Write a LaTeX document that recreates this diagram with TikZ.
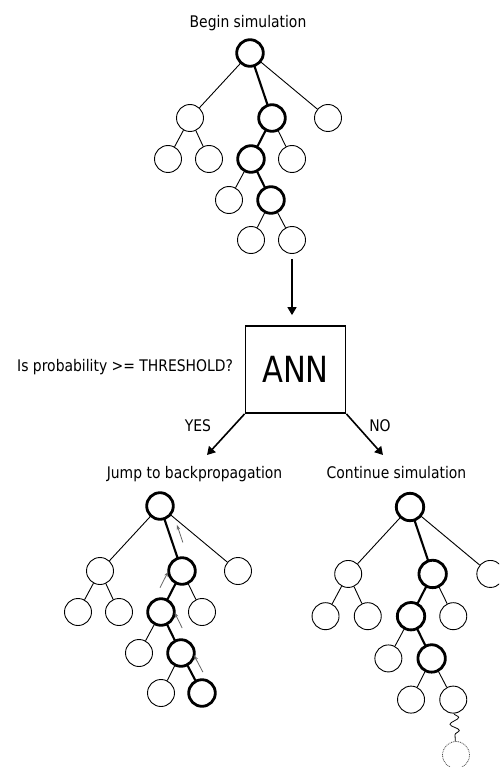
\documentclass[tikz,border=0pt]{standalone}
\usepackage{fontspec}
\setmainfont{DejaVu Sans}[FakeStretch=0.87]
\newfontfamily\annfont{DejaVu Sans}[FakeStretch=0.85]
\usetikzlibrary{arrows.meta,decorations.pathmorphing,calc}

% one search tree; #1 = name prefix, #2 = style of the deepest right leaf,
% #3 = style of the edge leading to it
\newcommand\simtree[3]{%
  \node[vtx] (#1r) at (0,0) {};
  \node[vtx] (#1a) at (-60,65) {};
  \node[vtx] (#1b) at (22,65) {};
  \node[vtx] (#1c) at (78,65) {};
  \node[vtx] (#1aa) at (-82,106) {};
  \node[vtx] (#1ab) at (-41,106) {};
  \node[vtx] (#1ba) at (1,106) {};
  \node[vtx] (#1bb) at (42,106) {};
  \node[vtx] (#1baa) at (-21,147) {};
  \node[vtx] (#1bab) at (21,147) {};
  \node[vtx] (#1baba) at (1,187) {};
  \node[vtx] (#1babb) at (42,187) {};
  \draw[hot] (#1r) circle[radius=13.3pt];
  \draw[hot] (#1b) circle[radius=13.3pt];
  \draw[hot] (#1ba) circle[radius=13.3pt];
  \draw[hot] (#1bab) circle[radius=13.3pt];
  \draw[#2] (#1babb) circle[radius=13.3pt];
  \draw[thinedge] (#1r) -- (#1a);
  \draw[thinedge] (#1r) -- (#1c);
  \draw[thinedge] (#1a) -- (#1aa);
  \draw[thinedge] (#1a) -- (#1ab);
  \draw[thinedge] (#1b) -- (#1bb);
  \draw[thinedge] (#1ba) -- (#1baa);
  \draw[thinedge] (#1bab) -- (#1baba);
  \draw[boldedge] (#1r) -- (#1b);
  \draw[boldedge] (#1b) -- (#1ba);
  \draw[boldedge] (#1ba) -- (#1bab);
  \draw[#3] (#1bab) -- (#1babb);
}

\begin{document}
\begin{tikzpicture}[x=1pt,y=-1pt,
  vtx/.style={circle,draw,line width=0.9pt,minimum size=27pt,inner sep=0pt},
  hot/.style={line width=2.8pt},
  plain/.style={line width=0pt,draw=none},
  thinedge/.style={line width=0.9pt},
  boldedge/.style={line width=2.1pt},
  flow/.style={line width=1.6pt,-{Triangle[length=8pt,width=9pt]}},
  back/.style={line width=0.8pt,draw=black!60,-{Stealth[length=5pt,width=3.5pt]}},
  lbl/.style={inner sep=0pt,anchor=base,font=\fontsize{16}{19}\selectfont},
  ghost/.style={circle,draw=black!70,line width=0.8pt,dash pattern=on 0.9pt off 0.9pt,
    minimum size=27pt,inner sep=0pt},
  wiggle/.style={line width=0.8pt,decorate,
    decoration={snake,amplitude=4.5pt,segment length=13pt}}]

\useasboundingbox (0,0) rectangle (499,767);
\fill[white] (0,0) rectangle (499,767);
\clip (0,0) rectangle (499,767);

% tree before the network is queried
\node[lbl] (title) at (248,27.5) {Begin simulation};
\begin{scope}[shift={(250,53)}]
  \simtree{t}{plain}{thinedge}
\end{scope}

% the network deciding
\node[draw,line width=1.8pt,minimum width=100pt,minimum height=87pt,inner sep=0pt]
  (ann) at (295.5,369.5) {\annfont\fontsize{36}{36}\selectfont ANN};
\node[lbl,anchor=base west] (question) at (17,371) {Is probability >= THRESHOLD?};
\draw[flow,shorten <=5pt,shorten >=10pt] (tbabb) -- (tbabb |- ann.north);

\coordinate (yesend) at (207,455);
\coordinate (noend) at (383,455);
\draw[flow] (ann.south west) -- (yesend);
\draw[flow] (ann.south east) -- (noend);
\node[lbl] (yes) at (198,431) {YES};
\node[lbl] (no) at (380,431) {NO};

\node[lbl] (jump) at (194.5,478) {Jump to backpropagation};
\node[lbl] (cont) at (396.5,478) {Continue simulation};

% backpropagation branch
\begin{scope}[shift={(160,506)}]
  \simtree{bl}{hot}{boldedge}
\end{scope}
\draw[back] ($(blr)!0.61!(blb)!10pt!90:(blb)$) -- ($(blr)!0.34!(blb)!10pt!90:(blb)$);
\draw[back] ($(blb)!0.54!(blba)!12pt!-90:(blba)$) -- ($(blb)!0.15!(blba)!12pt!-90:(blba)$);
\draw[back] ($(blba)!0.52!(blbab)!12pt!90:(blbab)$) -- ($(blba)!0.14!(blbab)!12pt!90:(blbab)$);
\draw[back] ($(blbab)!0.6!(blbabb)!10.5pt!90:(blbabb)$) -- ($(blbab)!0.18!(blbabb)!10.5pt!90:(blbabb)$);

% continued simulation branch
\begin{scope}[shift={(410,507)},scale=1.03]
  \simtree{br}{plain}{thinedge}
\end{scope}
\node[ghost] (next) at (456,755) {};
\draw[wiggle] (brbabb) -- (next);

\end{tikzpicture}
\end{document}
